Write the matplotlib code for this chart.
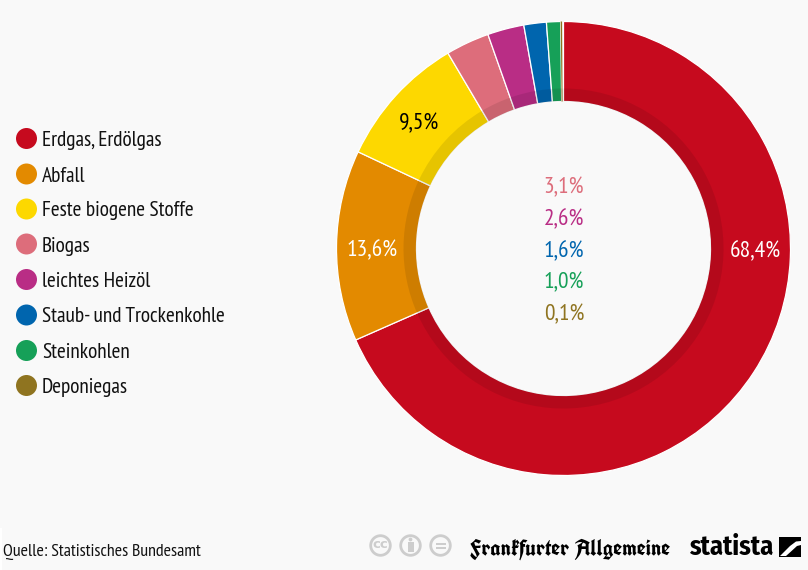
import matplotlib
matplotlib.use("Agg")
import matplotlib.pyplot as plt
from matplotlib.patches import Circle, Polygon, Rectangle

categories = ["Erdgas, Erdölgas", "Abfall", "Feste biogene Stoffe", "Biogas",
              "leichtes Heizöl", "Staub- und Trockenkohle", "Steinkohlen", "Deponiegas"]
values = [68.4, 13.6, 9.5, 3.1, 2.6, 1.6, 1.0, 0.1]
labels = ["68,4%", "13,6%", "9,5%", "3,1%", "2,6%", "1,6%", "1,0%", "0,1%"]
colors = ["#c60a1e", "#e38a00", "#fdd800", "#dd6d7b", "#b92d85", "#0065ae", "#16a058", "#8f7420"]

FONT = ["PT Sans Narrow", "Liberation Sans", "DejaVu Sans"]
BLACKLETTER = ["UnifrakturCook", "UnifrakturMaguntia", "Liberation Serif", "DejaVu Serif"]
LOGO = ["Fira Sans Condensed", "Liberation Sans", "DejaVu Sans"]
BG = "#f9f9f9"
ICON = "#cdcdcd"
CX, CY, R, RI, RS = 563.5, 248.5, 227, 147, 160

fig = plt.figure(figsize=(8.08, 5.70), dpi=100, facecolor=BG)
ax = fig.add_axes([0, 0, 1, 1])
ax.set_facecolor(BG)

def Y(py):
    return 570 - py

wedges, _ = ax.pie([v / 100 for v in values], colors=colors, startangle=90, counterclock=False, radius=R,
                   center=(CX, Y(CY)), frame=True, normalize=False,
                   wedgeprops=dict(width=R - RI, edgecolor="white", linewidth=0.9))
wedges[-1].set_edgecolor("none")
ax.pie([v / 100 for v in values], colors=["black"] * len(values), startangle=90, counterclock=False,
       radius=RS, center=(CX, Y(CY)), frame=True, normalize=False,
       wedgeprops=dict(width=RS - RI, edgecolor="none", linewidth=0, alpha=0.09))

ax.set_xlim(0, 808)
ax.set_ylim(0, 570)
ax.set_aspect("equal")
ax.axis("off")

SIZE = 15.4
PCT = 16.8

# labels in / on the ring
ax.text(755.5, Y(251.5), labels[0], color="white", fontsize=PCT, family=FONT, ha="center", va="center")
ax.text(372.5, Y(250.5), labels[1], color="white", fontsize=PCT, family=FONT, ha="center", va="center")
ax.text(419.5, Y(123.5), labels[2], color="black", fontsize=PCT, family=FONT, ha="center", va="center")

# labels in the hole
for lab, col, py in zip(labels[3:], colors[3:], [187.5, 219.5, 251.5, 282.5, 314.5]):
    ax.text(564, Y(py), lab, color=col, fontsize=PCT, family=FONT, ha="center", va="center")

# legend
for cat, col, py in zip(categories, colors, [138.5, 174, 209, 244, 279.5, 315, 350.5, 385.5]):
    ax.add_patch(Circle((26.5, Y(py)), 10.5, color=col, lw=0))
    ax.text(42, Y(py + 2), cat, color="#111111", fontsize=SIZE, family=FONT, ha="left", va="center")

# footer
ax.add_patch(Rectangle((0, 0), 808, 42, color="white", lw=0, zorder=0))
ax.add_patch(Rectangle((2, 0), 806, 42, color=BG, lw=0, zorder=0.5))
ax.text(3, Y(552), "Quelle: Statistisches Bundesamt", color="#111111", fontsize=12.9, family=FONT,
        ha="left", va="center")

# licence icons
for x in [380.5, 410.5, 440.5]:
    ax.add_patch(Circle((x, Y(545.5)), 9.8, facecolor="none", edgecolor=ICON, lw=2))
ax.text(380.5, Y(545), "cc", color=ICON, fontsize=9.5, fontweight="bold", family="DejaVu Sans",
        ha="center", va="center")
ax.add_patch(Circle((410.5, Y(539.5)), 1.9, color=ICON, lw=0))
ax.add_patch(Rectangle((407.5, Y(552)), 6, 10, color=ICON, lw=0))
ax.add_patch(Rectangle((435.5, Y(544.5)), 10, 2, color=ICON, lw=0))
ax.add_patch(Rectangle((435.5, Y(549)), 10, 2, color=ICON, lw=0))

# publisher logos
ax.text(570.5, Y(549), "Frankfurter Allgemeine", color="black", fontsize=16.4, family=BLACKLETTER,
        ha="center", va="center")
ax.text(731, Y(547), "statista", color="black", fontsize=19, fontweight="bold", family=LOGO,
        ha="center", va="center")
ax.add_patch(Rectangle((779, Y(557)), 22, 20, color="black", lw=0))
ax.add_patch(Polygon([(780, Y(556)), (790, Y(546)), (796, Y(541.5)), (801, Y(541)), (801, Y(545)),
                      (797, Y(546)), (791, Y(551.5)), (786, Y(556))],
                     closed=True, color="white", lw=0))

fig.savefig("out.png", dpi=100, facecolor=BG)
